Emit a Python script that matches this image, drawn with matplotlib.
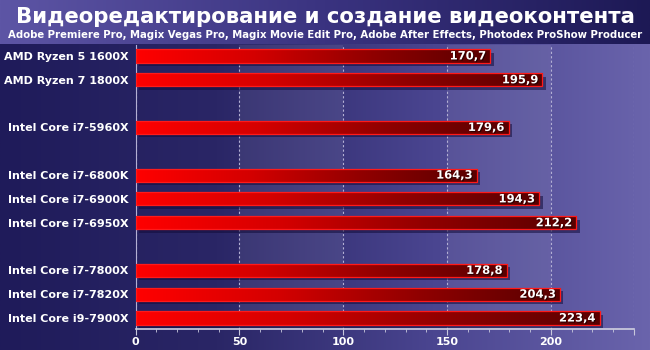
import numpy as np
import matplotlib.pyplot as plt
import matplotlib.patheffects as pe
from matplotlib.colors import LinearSegmentedColormap

# data
cpus = ["AMD Ryzen 5 1600X", "AMD Ryzen 7 1800X",
        "Intel Core i7-5960X",
        "Intel Core i7-6800K", "Intel Core i7-6900K", "Intel Core i7-6950X",
        "Intel Core i7-7800X", "Intel Core i7-7820X", "Intel Core i9-7900X"]
scores = [170.7, 195.9, 179.6, 164.3, 194.3, 212.2, 178.8, 204.3, 223.4]
rows = [0, 1, 3, 5, 6, 7, 9, 10, 11]   # gaps between CPU groups
xticks = [0, 50, 100, 150, 200]

title = "Видеоредактирование и создание видеоконтента"
subtitle = ("Adobe Premiere Pro, Magix Vegas Pro, Magix Movie Edit Pro, "
            "Adobe After Effects, Photodex ProShow Producer")

plt.rcParams['font.family'] = ['DejaVu Sans']

fig = plt.figure(figsize=(6.5, 3.5), dpi=100)

# figure background: dark navy on the left, lilac on the right
bg = fig.add_axes([0, 0, 1, 1], zorder=-2)
bg_cmap = LinearSegmentedColormap.from_list("bg", ["#1f1b5a", "#2a2666", "#4a4590", "#6a64ac"])
bg.imshow(np.linspace(0, 1, 256)[None, :], cmap=bg_cmap, aspect="auto",
          extent=[0, 1, 0, 1])
# header: reversed gradient
hd_cmap = LinearSegmentedColormap.from_list("hd", ["#5d55a5", "#3a3380", "#1d1955"])
bg.imshow(np.linspace(0, 1, 256)[None, :], cmap=hd_cmap, aspect="auto",
          extent=[0, 1, 1 - 44 / 350, 1])
bg.set_xlim(0, 1)
bg.set_ylim(0, 1)
bg.axis("off")

fig.text(0.5, 1 - 17 / 350, title, ha="center", va="center", color="white",
         fontsize=15.3, fontweight="bold")
fig.text(0.5, 1 - 35 / 350, subtitle, ha="center", va="center", color="white",
         fontsize=7.3, fontweight="bold")

ax = fig.add_axes([135.6 / 650, 1 - 329 / 350, (634 - 135.6) / 650, (329 - 45) / 350])
ax.set_facecolor("none")
xmax = 240
ax.set_xlim(0, xmax)
ax.set_ylim(11.46, -0.46)

# lighter bands between alternate gridlines
for lo in (50, 150):
    ax.axvspan(lo, lo + 50, color="white", alpha=0.07, lw=0, zorder=0)

h = 0.55
bar_cmap = LinearSegmentedColormap.from_list("bar", ["#ff0000", "#d40000", "#900000", "#580000"])
grad = np.linspace(0, 1, 256)[None, :]

base = ax.barh(rows, scores, height=h, color="#b00000", lw=0, zorder=2)
for p in base:
    p.set_path_effects([pe.SimplePatchShadow(offset=(2.5, -2.5), shadow_rgbFace="#120c3a", alpha=0.55),
                        pe.Normal()])
for p, v, r in zip(base, scores, rows):
    im = ax.imshow(grad, cmap=bar_cmap, aspect="auto", zorder=3,
                   extent=[0, v, r + h / 2, r - h / 2], interpolation="bilinear")
    im.set_clip_path(p)
ax.barh(rows, scores, height=h, fill=False, edgecolor="#ff1a1a", lw=0.9, zorder=4)

ax.set_xlim(0, xmax)
ax.set_ylim(11.46, -0.46)

for v, r in zip(scores, rows):
    ax.annotate(f"{v:.1f}".replace(".", ","), (v, r), xytext=(-3, 0),
                textcoords="offset points", ha="right", va="center",
                color="white", fontsize=8.3, fontweight="bold", zorder=5,
                path_effects=[pe.withSimplePatchShadow(offset=(0.8, -0.8),
                                                       shadow_rgbFace="#200000", alpha=0.8)])

ax.set_yticks(rows, cpus)
ax.tick_params(axis="y", length=0, pad=5, labelcolor="white", labelsize=8)
for t in ax.get_yticklabels():
    t.set_fontweight("bold")

ax.set_xticks(xticks + [xmax], [str(x) for x in xticks] + [""])
ax.set_xticks(np.arange(0, xmax, 10), minor=True)
ax.tick_params(axis="x", which="major", length=4, color="#c8c8dc", labelcolor="white",
               labelsize=8, pad=2)
ax.tick_params(axis="x", which="minor", length=2.5, color="#c8c8dc")
for t in ax.get_xticklabels():
    t.set_fontweight("bold")

ax.grid(axis="x", which="major", ls=(0, (2, 2)), color="#b4b0d4", lw=0.8, zorder=1)
for s in ("top", "right"):
    ax.spines[s].set_visible(False)
ax.spines["left"].set_color("#b4b0d4")
ax.spines["bottom"].set_color("#d0d0e0")
ax.spines["bottom"].set_linewidth(1.2)

fig.savefig("out.png", dpi=100)
